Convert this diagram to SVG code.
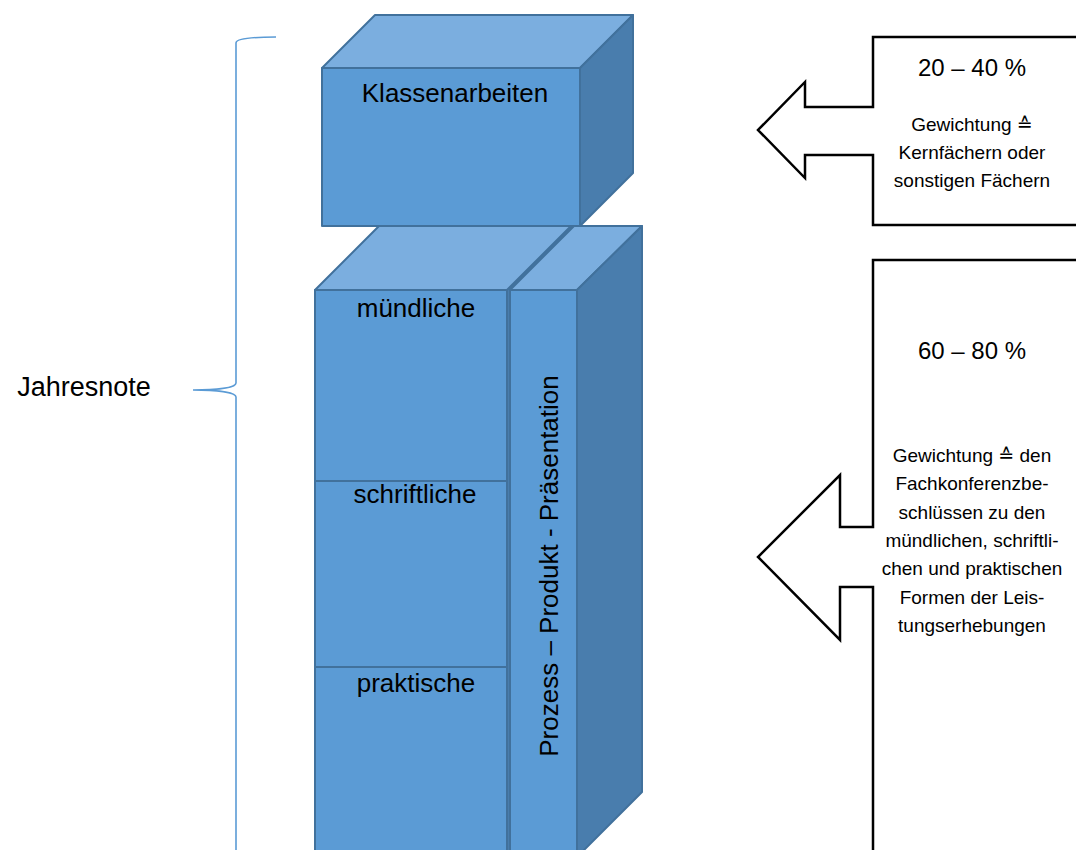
<svg xmlns="http://www.w3.org/2000/svg" width="1076" height="850" viewBox="0 0 1076 850">
<style>
.front{fill:#5B9BD5;stroke:#41719C;stroke-width:2;stroke-linejoin:round}
.top{fill:#7BAEDF;stroke:#41719C;stroke-width:2;stroke-linejoin:round}
.side{fill:#497DAD;stroke:#41719C;stroke-width:2;stroke-linejoin:round}
.lbl{font-family:"Liberation Sans",Arial,sans-serif;font-size:26px;fill:#000;text-anchor:middle}
.callout{fill:#fff;stroke:#000;stroke-width:2.5;stroke-linejoin:miter}
.big{font-family:"Liberation Sans",Arial,sans-serif;font-size:24px;fill:#000;text-anchor:middle}
.small{font-family:"Liberation Sans","DejaVu Sans",Arial,sans-serif;font-size:19px;fill:#000;text-anchor:middle}
.brace{fill:none;stroke:#5B9BD5;stroke-width:1.6}
</style>
<rect width="1076" height="850" fill="#fff"/>
<g id="brace">
<path class="brace" d="M276,37 C256,37 236,38 236,43 L236,383 C236,388 216,390 193,390 C216,390 236,392 236,397 L236,852"/>
</g>
<g id="jahresnote">
<text class="lbl" x="84" y="396" style="font-size:27px">Jahresnote</text>
</g>
<g id="klassenarbeiten">
<polygon class="top" points="322,68 375,15 633,15 580,68"/>
<polygon class="side" points="580,68 633,15 633,173 580,226"/>
<rect class="front" x="322" y="68" width="258" height="158"/>
<text class="lbl" x="455" y="102">Klassenarbeiten</text>
</g>
<g id="formen">
<polygon class="top" points="315,290 379,226 573,226 509,290"/>
<polygon class="side" points="507,290 571,226 571,790 507,856"/>
<rect class="front" x="315" y="290" width="192" height="570"/>
<line x1="315" y1="481" x2="507" y2="481" stroke="#41719C" stroke-width="2"/>
<line x1="315" y1="667" x2="507" y2="667" stroke="#41719C" stroke-width="2"/>
</g>
<g id="muendliche"><text class="lbl" x="416" y="317">mündliche</text></g>
<g id="schriftliche"><text class="lbl" x="415" y="503">schriftliche</text></g>
<g id="praktische"><text class="lbl" x="416" y="692">praktische</text></g>
<g id="ppp">
<polygon class="top" points="510,290 574,226 642,226 577,290"/>
<polygon class="side" points="577,290 642,226 642,792 577,857"/>
<rect class="front" x="510" y="290" width="67" height="570"/>
<text class="lbl" transform="translate(558,566) rotate(-90)" x="0" y="0">Prozess – Produkt - Präsentation</text>
</g>
<g id="callout1">
<path class="callout" d="M873,37 L1080,37 L1080,225 L873,225 L873,155 L805,155 L805,178 L758,130 L805,82 L805,107 L873,107 Z"/>
<text class="big" x="972" y="76">20 – 40 %</text>
<text class="small" x="972" y="131">Gewichtung  ≙</text>
<text class="small" x="972" y="159">Kernfächern oder</text>
<text class="small" x="972" y="187">sonstigen Fächern</text>
</g>
<g id="callout2">
<path class="callout" d="M873,260 L1080,260 L1080,856 L873,856 L873,587 L840,587 L840,640 L758,557 L840,475 L840,527 L873,527 Z"/>
<text class="big" x="972" y="359">60 – 80 %</text>
<text class="small" x="972" y="462">Gewichtung ≙  den</text>
<text class="small" x="972" y="490">Fachkonferenzbe-</text>
<text class="small" x="972" y="519">schlüssen zu den</text>
<text class="small" x="972" y="547">mündlichen, schriftli-</text>
<text class="small" x="972" y="575">chen und praktischen</text>
<text class="small" x="972" y="604">Formen der Leis-</text>
<text class="small" x="972" y="632">tungserhebungen</text>
</g>
</svg>
